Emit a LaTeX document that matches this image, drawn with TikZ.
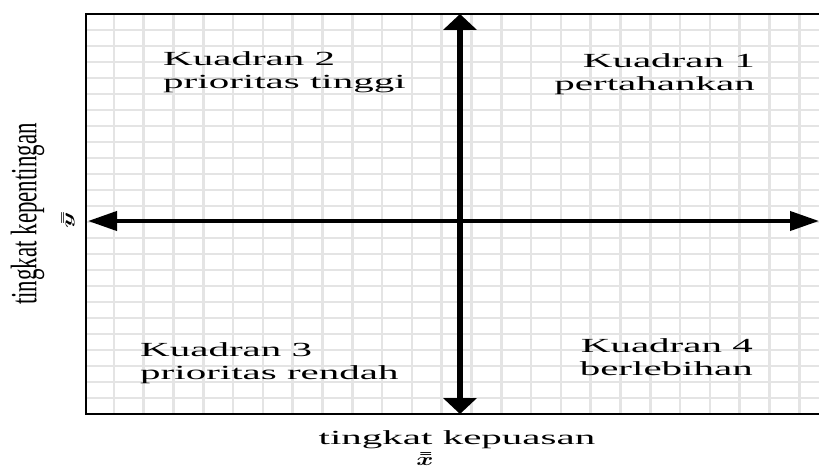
\documentclass[tikz,border=0pt]{standalone}
\usepackage{fontspec}
\usepackage{amsmath}
\usetikzlibrary{arrows.meta}
\setmainfont{Liberation Serif}
\newfontfamily\widefont[FakeStretch=2.05]{Liberation Serif}
\newfontfamily\narrowfont[FakeStretch=0.62]{Liberation Serif}
\definecolor{gridgray}{RGB}{228,228,228}

\begin{document}
\begin{tikzpicture}[x=1pt,y=-1pt,
    quadtext/.style={inner sep=0pt,font=\widefont\fontsize{20}{23}\selectfont},
    axisline/.style={draw=black}
]
\useasboundingbox (0,0) rectangle (819,468);

\begin{scope}
\clip (86,14) rectangle (819,414);
\foreach \k in {1,...,24}{
    \draw[gridgray,line width=2.6pt] (84+29.8*\k,14) -- (84+29.8*\k,414);
    \draw[gridgray,line width=1.7pt] (86,14+16*\k) -- (819,14+16*\k);
}
\end{scope}

\draw[line width=2.6pt] (819,14) -- (86,14) -- (86,414) -- (819,414);

\coordinate (west) at (88,221);
\coordinate (east) at (819,221);
\coordinate (north) at (460,14);
\coordinate (south) at (460,414);

\draw[axisline,line width=4pt,
    {Triangle[length=29pt,width=19pt]}-{Triangle[length=29pt,width=19pt]}]
    (west) -- (east);
\draw[axisline,line width=6pt,
    {Triangle[length=16pt,width=33pt]}-{Triangle[length=16pt,width=33pt]}]
    (north) -- (south);

\node[quadtext,anchor=north west,align=left] (kuadran2) at (163,51)
    {Kuadran 2\\prioritas tinggi};
\node[quadtext,anchor=north east,align=right] (kuadran1) at (755,53)
    {Kuadran 1\\pertahankan};
\node[quadtext,anchor=north west,align=left] (kuadran3) at (140,342)
    {Kuadran 3\\prioritas rendah};
\node[quadtext,anchor=north east,align=right] (kuadran4) at (753,338)
    {Kuadran 4\\berlebihan};

\node[quadtext,anchor=base] (kepuasan) at (457,444) {tingkat kepuasan};
\node[inner sep=0pt] (xbar) at (425,459)
    {\scalebox{2.6}[1.8]{$\boldsymbol{\bar{\bar{x}}}$}};

\node[inner sep=0pt,rotate=90,font=\narrowfont\fontsize{37}{37}\selectfont]
    (kepentingan) at (27.5,214) {tingkat kepentingan};
\node[inner sep=0pt,rotate=90] (ybar) at (68,220)
    {\scalebox{2.6}[1.4]{$\boldsymbol{\bar{\bar{y}}}$}};
\end{tikzpicture}
\end{document}
